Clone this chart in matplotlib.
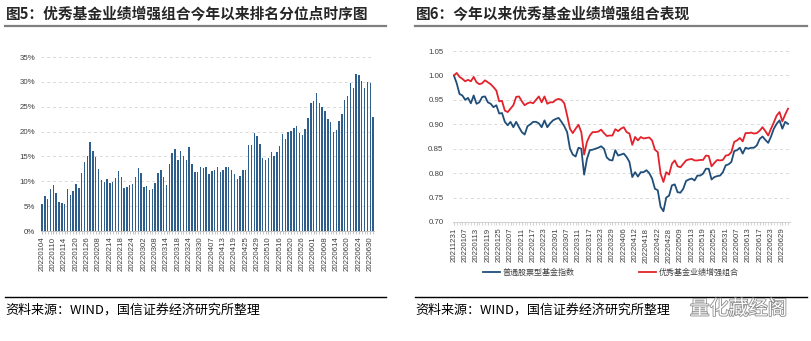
import matplotlib
matplotlib.use('Agg')
import matplotlib.pyplot as plt
import matplotlib.patheffects as pe
from matplotlib.lines import Line2D
import numpy as np

plt.rcParams['font.family'] = ['Liberation Sans', 'Noto Sans CJK SC', 'DejaVu Sans']

# ---- data: figure 5 (rank percentile, daily, 20220104 - 20220701)
rank_ticks = ['20220104', '20220110', '20220114', '20220120', '20220126', '20220208',
              '20220214', '20220218', '20220224', '20220302', '20220308', '20220314',
              '20220318', '20220324', '20220330', '20220407', '20220413', '20220419',
              '20220425', '20220429', '20220510', '20220516', '20220520', '20220526',
              '20220601', '20220608', '20220614', '20220620', '20220624', '20220630']
rank_pct = [5.4, 7.1, 6.5, 8.5, 9.3, 7.6, 5.8, 5.6, 5.4, 8.5,
            7.3, 8.1, 9.5, 8.7, 11.6, 13.9, 15.1, 17.9, 16.0, 14.8,
            12.4, 10.3, 9.9, 10.4, 9.7, 9.9, 10.7, 12.0, 10.8, 8.7,
            8.9, 9.2, 9.5, 10.9, 12.6, 11.6, 8.9, 9.1, 8.2, 8.4,
            9.7, 11.6, 12.3, 10.9, 9.3, 13.4, 15.7, 16.5, 14.3, 16.1,
            15.0, 14.3, 16.8, 13.5, 11.9, 11.9, 12.9, 12.6, 12.8, 11.4,
            12.1, 12.2, 12.8, 11.8, 12.2, 12.8, 12.8, 12.3, 11.4, 10.4,
            11.0, 12.2, 12.3, 17.2, 17.2, 19.7, 19.2, 17.5, 14.7, 14.3,
            14.6, 15.9, 15.0, 15.9, 17.1, 19.6, 18.5, 19.9, 20.2, 20.7,
            21.2, 19.8, 19.3, 20.6, 22.7, 25.8, 26.2, 27.8, 25.7, 25.0,
            24.1, 22.6, 21.9, 20.0, 20.4, 22.2, 23.6, 26.3, 27.1, 29.7,
            28.8, 31.5, 31.3, 30.2, 28.7, 30.0, 29.8, 22.9]

# ---- data: figure 6 (net value, daily, 20211231 - 20220701)
nav_ticks = ['20211231', '20220107', '20220113', '20220119', '20220125', '20220207',
             '20220211', '20220217', '20220223', '20220301', '20220307', '20220311',
             '20220317', '20220323', '20220329', '20220406', '20220412', '20220418',
             '20220422', '20220428', '20220509', '20220513', '20220519', '20220525',
             '20220531', '20220607', '20220613', '20220617', '20220623', '20220629']
stock_fund_index = [1.000, 0.984, 0.962, 0.959, 0.950, 0.954, 0.943, 0.959, 0.942, 0.945,
                    0.956, 0.957, 0.945, 0.942, 0.935, 0.939, 0.922, 0.923, 0.905, 0.898,
                    0.905, 0.894, 0.905, 0.894, 0.884, 0.879, 0.896, 0.900, 0.905, 0.905,
                    0.902, 0.894, 0.908, 0.894, 0.902, 0.908, 0.911, 0.913, 0.905, 0.896,
                    0.884, 0.850, 0.838, 0.834, 0.852, 0.850, 0.797, 0.829, 0.847, 0.848,
                    0.850, 0.852, 0.855, 0.850, 0.832, 0.827, 0.826, 0.847, 0.836, 0.838,
                    0.840, 0.833, 0.823, 0.792, 0.802, 0.793, 0.802, 0.802, 0.806, 0.800,
                    0.789, 0.768, 0.765, 0.731, 0.722, 0.750, 0.754, 0.775, 0.777, 0.761,
                    0.760, 0.768, 0.784, 0.787, 0.789, 0.785, 0.795, 0.795, 0.799, 0.809,
                    0.809, 0.787, 0.792, 0.794, 0.795, 0.802, 0.816, 0.818, 0.823, 0.845,
                    0.847, 0.852, 0.840, 0.852, 0.850, 0.852, 0.852, 0.857, 0.870, 0.875,
                    0.868, 0.862, 0.875, 0.891, 0.901, 0.908, 0.891, 0.905, 0.901]
enhanced_portfolio = [1.000, 1.005, 0.997, 0.993, 0.988, 0.991, 0.988, 0.997, 0.986, 0.982,
                      0.984, 0.990, 0.986, 0.982, 0.976, 0.969, 0.947, 0.948, 0.928, 0.925,
                      0.932, 0.939, 0.956, 0.957, 0.947, 0.939, 0.943, 0.945, 0.943, 0.950,
                      0.957, 0.945, 0.957, 0.942, 0.945, 0.945, 0.950, 0.952, 0.950, 0.943,
                      0.918, 0.891, 0.882, 0.891, 0.899, 0.884, 0.838, 0.864, 0.877, 0.884,
                      0.884, 0.885, 0.889, 0.882, 0.876, 0.877, 0.877, 0.890, 0.886, 0.891,
                      0.894, 0.884, 0.881, 0.858, 0.874, 0.867, 0.874, 0.871, 0.872, 0.873,
                      0.867, 0.848, 0.843, 0.799, 0.782, 0.802, 0.797, 0.819, 0.826, 0.814,
                      0.812, 0.819, 0.826, 0.828, 0.829, 0.826, 0.826, 0.827, 0.827, 0.836,
                      0.835, 0.814, 0.821, 0.827, 0.826, 0.827, 0.836, 0.837, 0.843, 0.864,
                      0.867, 0.872, 0.865, 0.882, 0.882, 0.883, 0.881, 0.882, 0.887, 0.894,
                      0.886, 0.877, 0.891, 0.904, 0.918, 0.925, 0.906, 0.920, 0.932]

W, H = 812, 341
fig = plt.figure(figsize=(W / 100, H / 100), dpi=100)


def px_axes(x0, y0, x1, y1):
    # pixel box (top-left origin) -> figure axes
    return fig.add_axes([x0 / W, 1 - y1 / H, (x1 - x0) / W, (y1 - y0) / H])


def fig_line(x0, x1, y, color, lw):
    fig.add_artist(Line2D([x0 / W, x1 / W], [1 - y / H, 1 - y / H],
                          color=color, lw=lw, transform=fig.transFigure))


tick_font = dict(fontsize=5.7, color='#404040')
grid_kw = dict(color='#D9D9D9', lw=0.7, dashes=(3, 3))
cjk = ['Noto Sans CJK SC', 'DejaVu Sans']

# ---- titles, rules, sources
fig.text(6 / W, 1 - 14 / H, '图5：优秀基金业绩增强组合今年以来排名分位点时序图',
         fontsize=10.6, family=cjk, weight='bold', color='#262626', va='center')
fig.text(416 / W, 1 - 14 / H, '图6：今年以来优秀基金业绩增强组合表现',
         fontsize=10.6, family=cjk, weight='bold', color='#262626', va='center')
fig_line(5, 386, 26, '#7F7F7F', 1.6)
fig_line(415, 807, 26, '#7F7F7F', 1.6)
fig_line(5, 386, 296.5, '#000000', 1.0)
fig_line(415, 807, 296.5, '#000000', 1.0)
fig.text(5 / W, 1 - 310 / H, '资料来源：WIND，国信证券经济研究所整理',
         fontsize=9.4, family=cjk, color='#000000', va='center')
fig.text(415 / W, 1 - 310 / H, '资料来源：WIND，国信证券经济研究所整理',
         fontsize=9.4, family=cjk, color='#000000', va='center')
fig.text(690 / W, 1 - 309 / H, '量化藏经阁', fontsize=14, family=cjk, color='white',
         va='center', path_effects=[pe.withStroke(linewidth=1.2, foreground='#8C8C8C')])

# ---- figure 5: bars
ax1 = px_axes(40.6, 57, 374.5, 231)
x1 = np.arange(len(rank_pct))
ax1.bar(x1, rank_pct, width=0.5, color='#2E5F8C', zorder=3)
ax1.set_xlim(-0.5, len(rank_pct) - 0.5)
ax1.set_ylim(0, 35)
ax1.set_yticks(np.arange(0, 36, 5))
ax1.set_yticklabels([f'{v}%' for v in range(0, 36, 5)], **tick_font)
for v in range(5, 36, 5):
    ax1.axhline(v, zorder=1, **grid_kw)
ax1.set_xticks(np.arange(0, 4 * len(rank_ticks), 4))
ax1.set_xticklabels(rank_ticks, rotation=90, **tick_font)
ax1.set_xticks(x1, minor=True)
ax1.tick_params(axis='x', which='both', length=2, color='#BFBFBF', pad=2)
ax1.tick_params(axis='y', length=0, pad=4)
for s in ['top', 'right', 'left']:
    ax1.spines[s].set_visible(False)
ax1.spines['bottom'].set_color('#BFBFBF')
ax1.spines['bottom'].set_linewidth(0.7)

# ---- figure 6: lines
ax2 = px_axes(453.3, 51, 790, 222)
x2 = np.arange(len(stock_fund_index))
ax2.plot(x2, stock_fund_index, color='#1F4E79', lw=1.3, label='普通股票型基金指数', zorder=3)
ax2.plot(x2, enhanced_portfolio, color='#E3222B', lw=1.3, label='优秀基金业绩增强组合', zorder=3)
ax2.set_xlim(-0.2, 118.7)
ax2.set_ylim(0.70, 1.05)
yt = np.arange(0.70, 1.051, 0.05)
ax2.set_yticks(yt)
ax2.set_yticklabels([f'{v:.2f}' for v in yt], **tick_font)
for v in yt[1:]:
    ax2.axhline(v, zorder=1, **grid_kw)
ax2.set_xticks(np.arange(0, 4 * len(nav_ticks), 4))
ax2.set_xticklabels(nav_ticks, rotation=90, **tick_font)
ax2.set_xticks(x2, minor=True)
ax2.tick_params(axis='x', which='both', length=2, color='#D0D0D0', pad=2)
ax2.tick_params(axis='y', length=0, pad=7)
for s in ['top', 'right', 'left']:
    ax2.spines[s].set_visible(False)
ax2.spines['bottom'].set_color('#D0D0D0')
ax2.spines['bottom'].set_linewidth(0.7)
leg = ax2.legend(loc='center', bbox_to_anchor=(611 / W, 1 - 272 / H),
                 bbox_transform=fig.transFigure, ncol=2, frameon=False,
                 prop={'family': cjk, 'size': 5.8}, handlelength=2.1,
                 handletextpad=0.3, columnspacing=8.0)
for t in leg.get_texts():
    t.set_color('#404040')

fig.savefig('out.png', dpi=100)
